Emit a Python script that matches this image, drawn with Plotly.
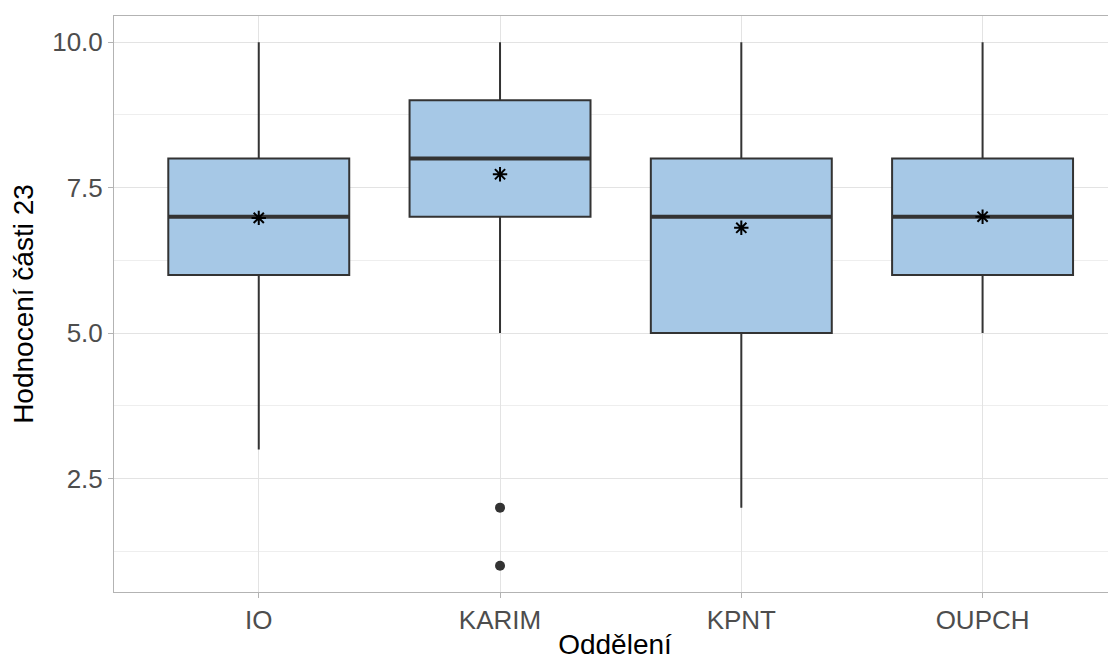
import plotly.graph_objects as go

categories = ["IO", "KARIM", "KPNT", "OUPCH"]
q1 = [6, 7, 5, 6]
median = [7, 8, 7, 7]
q3 = [8, 9, 8, 8]
lower = [3, 5, 2, 5]
upper = [10, 10, 10, 10]
means = [6.98, 7.73, 6.81, 7.0]
outlier_cat = ["KARIM", "KARIM"]
outlier_val = [2, 1]

xpos = list(range(len(categories)))
pos = {c: i for i, c in enumerate(categories)}
line_col = "#333333"
fill_col = "#a6c8e6"
half = 0.375

fig = go.Figure()
fig.add_trace(go.Box(
    x=xpos, q1=q1, median=median, q3=q3, lowerfence=lower, upperfence=upper,
    fillcolor=fill_col, line=dict(color=line_col, width=2), whiskerwidth=0,
    width=2 * half, boxpoints=False, hoverinfo="skip", showlegend=False,
))
# thick median lines
mx, my = [], []
for i, m in enumerate(median):
    mx += [i - half, i + half, None]
    my += [m, m, None]
fig.add_trace(go.Scatter(x=mx, y=my, mode="lines", line=dict(color=line_col, width=4),
                         showlegend=False, hoverinfo="skip"))
# outliers
fig.add_trace(go.Scatter(x=[pos[c] for c in outlier_cat], y=outlier_val, mode="markers",
                         marker=dict(color=line_col, size=10), showlegend=False))
# means
fig.add_trace(go.Scatter(x=xpos, y=means, mode="markers",
                         marker=dict(symbol="asterisk", size=12, color="black",
                                     line=dict(color="black", width=2)),
                         showlegend=False))

fig.update_layout(
    width=1108, height=652,
    margin=dict(l=106, r=0, t=8, b=68),
    paper_bgcolor="white", plot_bgcolor="white",
    font=dict(family="Liberation Sans, Arial, sans-serif"),
    xaxis=dict(
        range=[-0.6, 3.553], tickmode="array", tickvals=xpos, ticktext=categories,
        showgrid=True, gridcolor="#e3e3e3", gridwidth=1, zeroline=False,
        showline=True, linecolor="#b3b3b3", linewidth=1, mirror=True,
        ticks="outside", ticklen=5, tickcolor="#b3b3b3",
        tickfont=dict(size=26, color="#4d4d4d"),
        title=dict(text="Oddělení", font=dict(size=28, color="black"), standoff=4),
    ),
    yaxis=dict(
        range=[0.55, 10.45], tickmode="array", tickvals=[2.5, 5, 7.5, 10],
        ticktext=["2.5", "5.0", "7.5", "10.0"],
        showgrid=True, gridcolor="#e3e3e3", gridwidth=1, zeroline=False,
        minor=dict(tickvals=[1.25, 3.75, 6.25, 8.75], showgrid=True,
                   gridcolor="#eeeeee", gridwidth=0.6),
        showline=True, linecolor="#b3b3b3", linewidth=1, mirror=True,
        ticks="outside", ticklen=5, tickcolor="#b3b3b3",
        tickfont=dict(size=26, color="#4d4d4d"),
        title=dict(text="Hodnocení části 23", font=dict(size=28, color="black"), standoff=12),
    ),
)
fig.write_html("out.html")
